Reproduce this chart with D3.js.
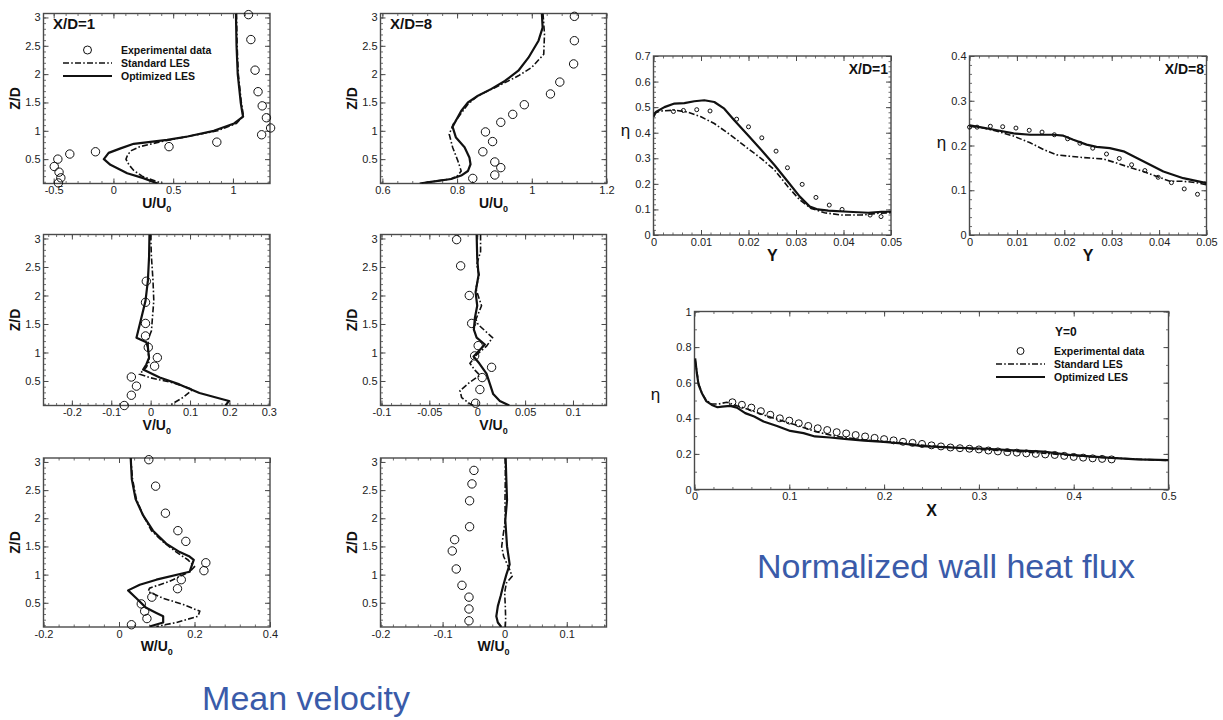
<!DOCTYPE html>
<html>
<head>
<meta charset="utf-8">
<script src="https://cdn.jsdelivr.net/npm/d3@7"></script>
<style>
  body { margin: 0; background: #fff; }
  svg { display: block; font-family: "Liberation Sans", Arial, Helvetica, sans-serif; }
</style>
</head>
<body>
<svg id="fig" width="1223" height="720"></svg>
<script>
// ---------- tick labels ----------
const zTicks   = [0.5, 1, 1.5, 2, 2.5, 3];
const u1Ticks  = [-0.5, 0, 0.5, 1];
const u2Ticks  = [0.6, 0.8, 1, 1.2];
const v1Ticks  = [-0.2, -0.1, 0, 0.1, 0.2, 0.3];
const v2Ticks  = [-0.1, -0.05, 0, 0.05, 0.1];
const w1Ticks  = [-0.2, 0, 0.2, 0.4];
const w2Ticks  = [-0.2, -0.1, 0, 0.1];
const yTicksY  = [0, 0.01, 0.02, 0.03, 0.04, 0.05];
const eta1Ticks = [0, 0.1, 0.2, 0.3, 0.4, 0.5, 0.6, 0.7];
const eta8Ticks = [0, 0.1, 0.2, 0.3, 0.4];
const xTicksX  = [0, 0.1, 0.2, 0.3, 0.4, 0.5];
const eta0Ticks = [0, 0.2, 0.4, 0.6, 0.8, 1];

const seriesNames = ["Experimental data", "Standard LES", "Optimized LES"];

// ---------- mean velocity profiles: [value, Z/D] ----------
const u1Exp = [[1.13,3.05],[1.15,2.61],[1.185,2.07],[1.21,1.69],[1.245,1.44],[1.28,1.23],[1.315,1.05],[1.24,0.93],[0.865,0.8],[0.465,0.72],[-0.15,0.63],[-0.365,0.59],[-0.465,0.5],[-0.495,0.37],[-0.455,0.27],[-0.44,0.17],[-0.46,0.08]];
const u1Std = [[1.03,3.07],[1.035,2.5],[1.045,2.0],[1.07,1.5],[1.085,1.3],[1.08,1.25],[1.03,1.13],[0.87,1.0],[0.62,0.9],[0.38,0.8],[0.22,0.72],[0.15,0.65],[0.12,0.58],[0.105,0.5],[0.13,0.4],[0.17,0.3],[0.24,0.2],[0.3,0.15],[0.41,0.07]];
const u1Opt = [[1.025,3.07],[1.03,2.5],[1.04,2.0],[1.065,1.5],[1.08,1.3],[1.085,1.25],[1.01,1.13],[0.84,1.0],[0.62,0.9],[0.45,0.84],[0.17,0.77],[0.06,0.69],[-0.04,0.61],[-0.08,0.5],[-0.025,0.4],[0.07,0.3],[0.115,0.25],[0.25,0.165],[0.37,0.07]];

const u2Exp = [[1.114,3.02],[1.114,2.59],[1.112,2.18],[1.075,1.86],[1.05,1.65],[0.98,1.46],[0.949,1.29],[0.917,1.15],[0.876,0.98],[0.895,0.81],[0.869,0.63],[0.901,0.45],[0.917,0.35],[0.901,0.22],[0.842,0.16]];
const u2Std = [[1.03,3.07],[1.034,2.71],[1.032,2.35],[1.0,2.12],[0.964,1.97],[0.91,1.79],[0.856,1.62],[0.829,1.47],[0.81,1.3],[0.79,1.12],[0.779,0.94],[0.788,0.71],[0.802,0.47],[0.811,0.29],[0.802,0.21],[0.784,0.15],[0.73,0.1],[0.7,0.07]];
const u2Opt = [[1.027,3.07],[1.029,2.82],[1.018,2.59],[0.991,2.29],[0.964,2.06],[0.928,1.88],[0.892,1.74],[0.856,1.62],[0.829,1.5],[0.811,1.35],[0.797,1.18],[0.788,1.07],[0.797,0.88],[0.82,0.71],[0.833,0.53],[0.836,0.41],[0.829,0.29],[0.811,0.21],[0.784,0.15],[0.73,0.1],[0.7,0.07]];

const v1Exp = [[-0.011,2.25],[-0.013,1.88],[-0.013,1.51],[-0.013,1.29],[-0.006,1.09],[0.017,0.91],[0.01,0.76],[-0.049,0.57],[-0.036,0.41],[-0.049,0.25],[-0.067,0.07]];
const v1Std = [[0,3.07],[0.002,2.68],[0.006,2.26],[0.008,1.91],[0.004,1.56],[0.002,1.38],[-0.006,1.24],[-0.007,1.03],[-0.003,0.85],[-0.011,0.74],[-0.028,0.62],[-0.003,0.56],[0.056,0.47],[0.107,0.35],[0.082,0.21],[0.048,0.07]];
const v1Opt = [[-0.003,3.07],[-0.004,2.68],[-0.007,2.26],[-0.013,1.91],[-0.021,1.68],[-0.036,1.26],[-0.011,1.18],[-0.007,1.09],[-0.004,0.91],[-0.011,0.79],[-0.019,0.7],[0.023,0.56],[0.073,0.44],[0.124,0.29],[0.166,0.21],[0.199,0.15],[0.19,0.07]];

const v2Exp = [[-0.0215,2.98],[-0.0173,2.52],[-0.0083,2.0],[-0.0058,1.51],[0.001,1.12],[-0.0027,0.94],[0.015,0.74],[0.0052,0.56],[0.0028,0.35],[-0.0017,0.11]];
const v2Std = [[0.0035,3.07],[0.0035,2.77],[-0.0006,2.54],[0.0021,2.36],[-0.0014,2.12],[0.0045,1.82],[-0.0014,1.58],[0.001,1.49],[0.016,1.26],[0.0097,1.11],[-0.0006,0.96],[-0.0076,0.81],[-0.0024,0.69],[0.0028,0.6],[-0.0076,0.48],[-0.018,0.33],[-0.0163,0.21],[-0.0076,0.1],[-0.004,0.07]];
const v2Opt = [[-0.0006,3.07],[0,2.65],[0.0014,2.36],[-0.0017,2.06],[0,1.82],[-0.0024,1.61],[-0.0035,1.4],[-0.0006,1.26],[0.008,1.14],[0.0014,1.02],[-0.0038,0.93],[0.0021,0.81],[0.0097,0.63],[0.0132,0.45],[0.0167,0.27],[0.0236,0.15],[0.0335,0.07]];

const w1Exp = [[0.079,3.04],[0.097,2.57],[0.123,2.09],[0.156,1.78],[0.177,1.59],[0.23,1.21],[0.225,1.07],[0.165,0.91],[0.155,0.75],[0.087,0.6],[0.059,0.48],[0.068,0.35],[0.074,0.22],[0.033,0.11]];
const w1Std = [[0.031,3.07],[0.036,2.69],[0.046,2.34],[0.064,2.05],[0.086,1.78],[0.117,1.58],[0.152,1.4],[0.183,1.26],[0.2,1.14],[0.187,1.05],[0.134,0.88],[0.081,0.76],[0.077,0.7],[0.117,0.58],[0.17,0.47],[0.214,0.35],[0.209,0.26],[0.152,0.15],[0.099,0.08]];
const w1Opt = [[0.031,3.07],[0.034,2.69],[0.044,2.34],[0.064,2.05],[0.09,1.78],[0.125,1.55],[0.161,1.4],[0.187,1.32],[0.198,1.26],[0.187,1.05],[0.099,0.91],[0.055,0.82],[0.024,0.72],[0.046,0.58],[0.072,0.41],[0.099,0.32],[0.117,0.26],[0.117,0.15],[0.081,0.08]];

const w2Exp = [[-0.0495,2.85],[-0.0527,2.61],[-0.0565,2.31],[-0.0565,1.85],[-0.0806,1.62],[-0.0844,1.42],[-0.078,1.1],[-0.0688,0.81],[-0.0575,0.6],[-0.0575,0.39],[-0.0575,0.18]];
const w2Std = [[0.001,3.07],[0.001,2.68],[0.0005,2.32],[0.001,1.97],[-0.0027,1.68],[-0.0048,1.5],[-0.0016,1.32],[0.008,1.09],[0.012,0.97],[0.0027,0.85],[0,0.68],[0.001,0.44],[0.0016,0.21],[0.001,0.07]];
const w2Opt = [[0.0016,3.07],[0.0027,2.68],[0.0038,2.32],[0.001,1.97],[0.0038,1.5],[0.007,1.26],[0.008,1.18],[0.0027,1.0],[-0.0027,0.79],[-0.0065,0.62],[-0.011,0.44],[-0.0135,0.26],[-0.011,0.15],[-0.0054,0.07]];

// ---------- normalized wall heat flux: [Y, eta] ----------
const eta1Exp = [[0.0042,0.483],[0.0063,0.487],[0.0091,0.49],[0.0119,0.485],[0.0175,0.453],[0.02,0.423],[0.0228,0.38],[0.0258,0.328],[0.0282,0.263],[0.0313,0.198],[0.0342,0.147],[0.037,0.117],[0.0397,0.1],[0.0456,0.078],[0.0479,0.072]];
const eta1Std = [[0,0.475],[0.0015,0.485],[0.0044,0.488],[0.0072,0.481],[0.01,0.462],[0.0128,0.436],[0.0163,0.39],[0.0199,0.338],[0.0227,0.299],[0.0255,0.254],[0.0283,0.189],[0.0308,0.137],[0.0332,0.104],[0.036,0.087],[0.0396,0.078],[0.0438,0.078],[0.0473,0.085],[0.05,0.087]];
const eta1Opt = [[0,0.462],[0.0005,0.481],[0.0023,0.5],[0.0044,0.514],[0.0065,0.516],[0.0086,0.523],[0.0107,0.527],[0.0128,0.52],[0.0149,0.494],[0.017,0.449],[0.0199,0.39],[0.0227,0.332],[0.0255,0.273],[0.0283,0.208],[0.0308,0.15],[0.0329,0.111],[0.0346,0.1],[0.0368,0.095],[0.041,0.091],[0.0452,0.087],[0.048,0.091],[0.05,0.091]];

const eta8Exp = [[0,0.241],[0.0016,0.241],[0.0044,0.243],[0.007,0.242],[0.0098,0.239],[0.0126,0.234],[0.0153,0.23],[0.0179,0.224],[0.0207,0.215],[0.0233,0.205],[0.026,0.194],[0.0289,0.181],[0.0316,0.171],[0.0342,0.157],[0.037,0.144],[0.0398,0.129],[0.0426,0.117],[0.0453,0.103],[0.0481,0.091]];
const eta8Std = [[0,0.243],[0.003,0.239],[0.0058,0.232],[0.0093,0.221],[0.0128,0.206],[0.0156,0.191],[0.0184,0.179],[0.0212,0.176],[0.024,0.173],[0.0282,0.17],[0.031,0.161],[0.0338,0.151],[0.0367,0.142],[0.0395,0.131],[0.0423,0.12],[0.0451,0.12],[0.0479,0.117],[0.05,0.112]];
const eta8Opt = [[0,0.245],[0.0022,0.241],[0.0058,0.234],[0.0093,0.227],[0.0128,0.224],[0.0177,0.224],[0.0198,0.222],[0.0219,0.213],[0.0247,0.202],[0.0268,0.197],[0.0296,0.194],[0.0325,0.187],[0.0353,0.172],[0.0381,0.157],[0.0409,0.142],[0.0451,0.127],[0.05,0.116]];

// centreline Y=0: [X, eta]
const eta0Exp = [[0.04,0.49],[0.05,0.476],[0.06,0.46],[0.07,0.44],[0.08,0.42],[0.09,0.4],[0.1,0.387],[0.11,0.372],[0.12,0.357],[0.13,0.344],[0.14,0.334],[0.15,0.322],[0.16,0.315],[0.17,0.306],[0.18,0.298],[0.19,0.29],[0.2,0.283],[0.21,0.276],[0.22,0.268],[0.23,0.262],[0.24,0.256],[0.25,0.248],[0.26,0.242],[0.27,0.236],[0.28,0.232],[0.29,0.229],[0.3,0.225],[0.31,0.219],[0.32,0.214],[0.33,0.21],[0.34,0.207],[0.35,0.203],[0.36,0.2],[0.37,0.197],[0.38,0.194],[0.39,0.189],[0.4,0.183],[0.41,0.179],[0.42,0.175],[0.43,0.172],[0.44,0.169]];
const eta0Std = [[0.0007,0.728],[0.0043,0.597],[0.0078,0.541],[0.0123,0.502],[0.018,0.48],[0.025,0.48],[0.034,0.49],[0.0447,0.47],[0.0587,0.447],[0.0728,0.419],[0.09,0.39],[0.107,0.362],[0.128,0.325],[0.15,0.298],[0.179,0.279],[0.214,0.264],[0.242,0.248],[0.273,0.236],[0.308,0.222],[0.343,0.213],[0.378,0.2],[0.413,0.185],[0.448,0.175],[0.5,0.163]];
const eta0Opt = [[0.0007,0.737],[0.0025,0.652],[0.0043,0.588],[0.0078,0.541],[0.0123,0.497],[0.0183,0.475],[0.0243,0.462],[0.029,0.466],[0.0377,0.47],[0.0447,0.46],[0.0535,0.429],[0.063,0.41],[0.0728,0.382],[0.087,0.357],[0.101,0.329],[0.115,0.317],[0.127,0.298],[0.143,0.292],[0.161,0.283],[0.179,0.275],[0.2,0.268],[0.221,0.257],[0.24,0.244],[0.273,0.235],[0.308,0.229],[0.343,0.218],[0.368,0.213],[0.397,0.194],[0.431,0.181],[0.467,0.169],[0.5,0.165]];

// ---------- drawing ----------
const svg = d3.select("#fig");
const INK = "#111";
const FRAME = "#4a4a4a";
const DASHDOT = "6,2.2,1.6,2.2";
let clipCount = 0;

const fmt = v => String(+v.toFixed(4));

function minorValues(domain, step) {
  const lo = Math.min(domain[0], domain[1]), hi = Math.max(domain[0], domain[1]);
  const out = [];
  for (let k = Math.ceil(lo / step - 1e-6); k * step <= hi + 1e-9; k++) out.push(+(k * step).toFixed(6));
  return out;
}

function drawAxis(g, axis, transform, major, minorStep, domain, showLabels) {
  const a1 = g.append("g").attr("transform", transform)
    .call(axis.tickValues(major).tickSize(-5).tickPadding(3)
      .tickFormat(showLabels ? fmt : () => ""));
  a1.select(".domain").remove();
  a1.selectAll(".tick line").attr("stroke", FRAME).attr("stroke-width", 1);
  a1.selectAll(".tick text").attr("fill", "#222").style("font-size", "11px");
  const a2 = g.append("g").attr("transform", transform)
    .call(axis.tickValues(minorValues(domain, minorStep)).tickSize(-2.5).tickFormat(() => ""));
  a2.select(".domain").remove();
  a2.selectAll(".tick line").attr("stroke", FRAME).attr("stroke-width", 0.8);
}

function drawPanel(c) {
  const g = svg.append("g");
  const x = d3.scaleLinear().domain(c.xDomain).range([c.x0, c.x1]);
  const y = d3.scaleLinear().domain(c.yDomain).range([c.y1, c.y0]);
  const id = "clip" + (clipCount++);
  g.append("clipPath").attr("id", id).append("rect")
    .attr("x", c.x0).attr("y", c.y0).attr("width", c.x1 - c.x0).attr("height", c.y1 - c.y0);

  drawAxis(g, d3.axisBottom(x), `translate(0,${c.y1})`, c.xTicks, c.xMinor, c.xDomain, true);
  drawAxis(g, d3.axisTop(x), `translate(0,${c.y0})`, c.xTicks, c.xMinor, c.xDomain, false);
  drawAxis(g, d3.axisLeft(y), `translate(${c.x0},0)`, c.yTicks, c.yMinor, c.yDomain, true);
  drawAxis(g, d3.axisRight(y), `translate(${c.x1},0)`, c.yTicks, c.yMinor, c.yDomain, false);

  g.append("rect").attr("x", c.x0).attr("y", c.y0)
    .attr("width", c.x1 - c.x0).attr("height", c.y1 - c.y0)
    .attr("fill", "none").attr("stroke", FRAME).attr("stroke-width", 1.4);

  const line = d3.line().x(d => x(d[0])).y(d => y(d[1]));
  const lines = g.append("g").attr("clip-path", `url(#${id})`);
  lines.append("path").datum(c.std).attr("d", line)
    .attr("fill", "none").attr("stroke", INK).attr("stroke-width", 1.6)
    .attr("stroke-dasharray", DASHDOT);
  lines.append("path").datum(c.opt).attr("d", line)
    .attr("fill", "none").attr("stroke", INK).attr("stroke-width", 2.2)
    .attr("stroke-linejoin", "round");

  g.append("g").selectAll("circle").data(c.exp).join("circle")
    .attr("cx", d => x(d[0])).attr("cy", d => y(d[1])).attr("r", c.r)
    .attr("fill", "none").attr("stroke", INK).attr("stroke-width", 1);

  // axis titles
  const midX = (c.x0 + c.x1) / 2, midY = (c.y0 + c.y1) / 2;
  if (c.xSub) {
    const t = g.append("text").attr("x", midX).attr("y", c.y1 + 24)
      .attr("text-anchor", "middle").attr("font-weight", "bold")
      .attr("font-size", 14).attr("fill", INK);
    t.append("tspan").text(c.xTitle);
    t.append("tspan").attr("font-size", 9).attr("dy", 4).text(c.xSub);
  } else {
    g.append("text").attr("x", midX).attr("y", c.y1 + 26)
      .attr("text-anchor", "middle").attr("font-weight", "bold")
      .attr("font-size", 16).attr("fill", INK).text(c.xTitle);
  }
  if (c.yRotate) {
    g.append("text").attr("transform", `translate(${c.x0 - 24},${midY}) rotate(-90)`)
      .attr("text-anchor", "middle").attr("font-weight", "bold")
      .attr("font-size", 14).attr("fill", INK).text(c.yTitle);
  } else {
    g.append("text").attr("x", c.x0 - c.yTitleGap).attr("y", midY + c.yTitleShift)
      .attr("text-anchor", "middle").attr("font-size", 17).attr("fill", INK)
      .text(c.yTitle);
  }
  if (c.tag) {
    g.append("text").attr("x", c.tag.x).attr("y", c.tag.y)
      .attr("text-anchor", c.tag.anchor).attr("font-weight", "bold")
      .attr("font-size", c.tag.size).attr("fill", INK).text(c.tag.text);
  }
  if (c.legend) drawLegend(g, c.legend);
}

function drawLegend(g, L) {
  const rows = [L.y, L.y + L.dy, L.y + 2 * L.dy];
  g.append("circle").attr("cx", (L.lx0 + L.lx1) / 2).attr("cy", rows[0]).attr("r", L.r)
    .attr("fill", "none").attr("stroke", INK).attr("stroke-width", 1);
  g.append("line").attr("x1", L.lx0).attr("x2", L.lx1).attr("y1", rows[1]).attr("y2", rows[1])
    .attr("stroke", INK).attr("stroke-width", 1.6).attr("stroke-dasharray", DASHDOT);
  g.append("line").attr("x1", L.lx0).attr("x2", L.lx1).attr("y1", rows[2]).attr("y2", rows[2])
    .attr("stroke", INK).attr("stroke-width", 2.2);
  seriesNames.forEach((s, i) => {
    g.append("text").attr("x", L.tx).attr("y", rows[i] + 4)
      .attr("font-weight", "bold").attr("font-size", 10.5).attr("fill", INK).text(s);
  });
}

// layout of the velocity grid
const colL = [43.5, 270], colR = [380.5, 606.5];
const rows = [[13.5, 183.5], [234.5, 405.5], [458, 627]];
const zDomain = [0.07, 3.07];

const velocityPanels = [
  { col: colL, row: rows[0], xDomain: [-0.585, 1.31], xTicks: u1Ticks, xMinor: 0.1, exp: u1Exp, std: u1Std, opt: u1Opt, xTitle: "U/U", xSub: "0",
    tag: { text: "X/D=1", x: 53, y: 29, anchor: "start", size: 15 },
    legend: { lx0: 63, lx1: 112, tx: 121, y: 50, dy: 13, r: 4 } },
  { col: colR, row: rows[0], xDomain: [0.595, 1.2], xTicks: u2Ticks, xMinor: 0.04, exp: u2Exp, std: u2Std, opt: u2Opt, xTitle: "U/U", xSub: "0",
    tag: { text: "X/D=8", x: 390, y: 29, anchor: "start", size: 15 } },
  { col: colL, row: rows[1], xDomain: [-0.272, 0.303], xTicks: v1Ticks, xMinor: 0.02, exp: v1Exp, std: v1Std, opt: v1Opt, xTitle: "V/U", xSub: "0" },
  { col: colR, row: rows[1], xDomain: [-0.101, 0.135], xTicks: v2Ticks, xMinor: 0.01, exp: v2Exp, std: v2Std, opt: v2Opt, xTitle: "V/U", xSub: "0" },
  { col: colL, row: rows[2], xDomain: [-0.2, 0.4], xTicks: w1Ticks, xMinor: 0.04, exp: w1Exp, std: w1Std, opt: w1Opt, xTitle: "W/U", xSub: "0" },
  { col: colR, row: rows[2], xDomain: [-0.2, 0.164], xTicks: w2Ticks, xMinor: 0.02, exp: w2Exp, std: w2Std, opt: w2Opt, xTitle: "W/U", xSub: "0" }
];

velocityPanels.forEach(p => drawPanel({
  x0: p.col[0], x1: p.col[1], y0: p.row[0], y1: p.row[1],
  xDomain: p.xDomain, yDomain: zDomain,
  xTicks: p.xTicks, xMinor: p.xMinor, yTicks: zTicks, yMinor: 0.1,
  exp: p.exp, std: p.std, opt: p.opt, r: 4.2,
  xTitle: p.xTitle, xSub: p.xSub, yTitle: "Z/D", yRotate: true,
  tag: p.tag, legend: p.legend
}));

// heat flux across the span
drawPanel({
  x0: 653.5, x1: 891, y0: 56, y1: 235, xDomain: [0, 0.05], yDomain: [0, 0.7],
  xTicks: yTicksY, xMinor: 0.002, yTicks: eta1Ticks, yMinor: 0.02,
  exp: eta1Exp, std: eta1Std, opt: eta1Opt, r: 2,
  xTitle: "Y", yTitle: "η", yTitleGap: 28, yTitleShift: -10,
  tag: { text: "X/D=1", x: 888, y: 74, anchor: "end", size: 14 }
});
drawPanel({
  x0: 969.5, x1: 1206.5, y0: 56, y1: 235, xDomain: [0, 0.05], yDomain: [0, 0.4],
  xTicks: yTicksY, xMinor: 0.002, yTicks: eta8Ticks, yMinor: 0.02,
  exp: eta8Exp, std: eta8Std, opt: eta8Opt, r: 2,
  xTitle: "Y", yTitle: "η", yTitleGap: 28, yTitleShift: 2,
  tag: { text: "X/D=8", x: 1204, y: 74, anchor: "end", size: 14 }
});
// heat flux along the centreline
drawPanel({
  x0: 694.5, x1: 1168.5, y0: 311.5, y1: 489.5, xDomain: [0, 0.5], yDomain: [0, 1],
  xTicks: xTicksX, xMinor: 0.02, yTicks: eta0Ticks, yMinor: 0.1,
  exp: eta0Exp, std: eta0Std, opt: eta0Opt, r: 3.5,
  xTitle: "X", yTitle: "η", yTitleGap: 39, yTitleShift: -1,
  tag: { text: "Y=0", x: 1055, y: 336, anchor: "start", size: 12 },
  legend: { lx0: 996, lx1: 1045, tx: 1054, y: 351, dy: 13, r: 3.5 }
});

// captions
svg.append("text").attr("x", 306).attr("y", 710).attr("text-anchor", "middle")
  .attr("font-size", 34).attr("fill", "#3a5ba9").text("Mean velocity");
svg.append("text").attr("x", 946).attr("y", 578).attr("text-anchor", "middle")
  .attr("font-size", 34).attr("fill", "#3a5ba9").text("Normalized wall heat flux");
</script>
</body>
</html>
